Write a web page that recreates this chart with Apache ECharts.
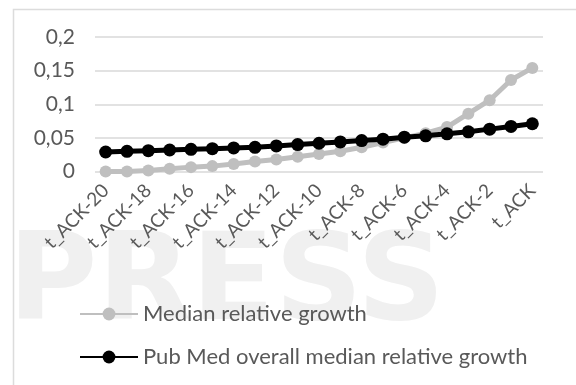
<!DOCTYPE html>
<html>
<head>
<meta charset="utf-8">
<script src="https://cdn.jsdelivr.net/npm/echarts@6/dist/echarts.min.js"></script>
<style>html,body{margin:0;padding:0;background:#fff}#c{width:576px;height:385px}</style>
</head>
<body>
<div id="c"></div>
<script>
const categories = ["t_ACK-20","t_ACK-19","t_ACK-18","t_ACK-17","t_ACK-16","t_ACK-15","t_ACK-14","t_ACK-13","t_ACK-12","t_ACK-11","t_ACK-10","t_ACK-9","t_ACK-8","t_ACK-7","t_ACK-6","t_ACK-5","t_ACK-4","t_ACK-3","t_ACK-2","t_ACK-1","t_ACK"];
const medianGrowth = [0, 0, 0.0015, 0.004, 0.0065, 0.008, 0.011, 0.015, 0.018, 0.022, 0.026, 0.030, 0.036, 0.043, 0.050, 0.057, 0.066, 0.086, 0.106, 0.136, 0.154];
const pubmedGrowth = [0.029, 0.030, 0.031, 0.032, 0.033, 0.034, 0.035, 0.036, 0.038, 0.040, 0.042, 0.044, 0.046, 0.048, 0.051, 0.053, 0.056, 0.059, 0.063, 0.067, 0.071];
const seriesNames = ["Median relative growth", "Pub Med overall median relative growth"];
const yTicks = [0, 0.05, 0.1, 0.15, 0.2];
const watermark = "PRESS";

const chart = echarts.init(document.getElementById('c'));
const font = 'Lato, "Open Sans", sans-serif';
chart.setOption({
  animation: false,
  textStyle: {fontFamily: font},
  graphic: [
    {type: 'rect', shape: {x: 13.5, y: 9.5, width: 600, height: 400}, style: {fill: 'none', stroke: '#dcdcdc', lineWidth: 1.5}, z: -10},
    {type: 'text', left: 8, top: 226, z: -20, silent: true,
     style: {text: watermark, fontSize: 122, fontWeight: 'bold', fontFamily: '"DejaVu Sans", sans-serif', fill: '#f0f0f0'}}
  ],
  grid: {left: 95, right: 33, top: 37, bottom: 213.5, containLabel: false},
  legend: {
    orient: 'vertical', left: 74, top: 298, itemGap: 21,
    itemWidth: 58, itemHeight: 16,
    textStyle: {color: '#595959', fontSize: 22, fontFamily: font},
    data: seriesNames
  },
  xAxis: {
    type: 'category', data: categories, boundaryGap: true,
    axisLine: {show: false}, axisTick: {show: false},
    axisLabel: {interval: 1, rotate: 45, color: '#595959', fontSize: 19, margin: 16, fontFamily: font}
  },
  yAxis: {
    type: 'value', min: 0, max: 0.2, interval: 0.05,
    axisLine: {show: false}, axisTick: {show: false},
    splitLine: {lineStyle: {color: '#d9d9d9', width: 1.5}},
    axisLabel: {color: '#595959', fontSize: 21, margin: 20, fontFamily: font,
      formatter: v => String(+v.toFixed(2)).replace('.', ',')}
  },
  series: [
    {name: seriesNames[0], type: 'line', data: medianGrowth, symbol: 'circle', symbolSize: 12,
     lineStyle: {color: '#bfbfbf', width: 5}, itemStyle: {color: '#bfbfbf'}, z: 2},
    {name: seriesNames[1], type: 'line', data: pubmedGrowth, symbol: 'circle', symbolSize: 13,
     lineStyle: {color: '#000', width: 5}, itemStyle: {color: '#000'}, z: 3}
  ]
});
</script>
</body>
</html>
